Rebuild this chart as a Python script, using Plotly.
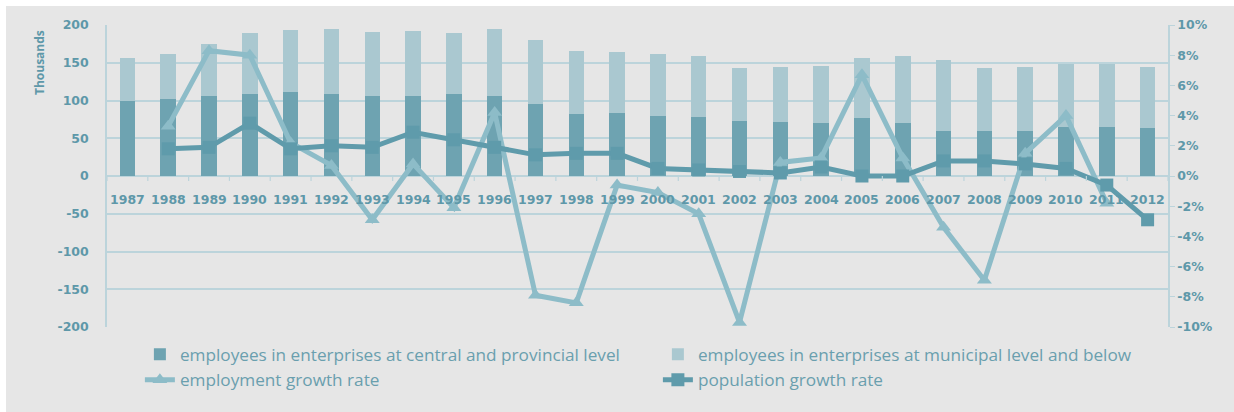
import plotly.graph_objects as go

years = [str(y) for y in range(1987, 2013)]

# employees (thousands)
central_provincial = [100, 102, 106, 109, 111, 109, 106, 106, 108, 106, 95, 82, 83, 80, 78,
                      73, 71, 70, 77, 70, 60, 59, 59, 65, 65, 63]
total_employees = [156, 162, 175, 190, 194, 195, 191, 192, 189, 195, 180, 166, 164, 162, 159,
                   143, 144, 146, 156, 159, 153, 143, 144, 149, 148, 145]
municipal_below = [t - c for t, c in zip(total_employees, central_provincial)]

# growth rates (%)
employment_growth = [None, 3.3, 8.3, 8.0, 2.2, 0.7, -2.9, 0.8, -2.1, 4.2, -7.9, -8.4, -0.6, -1.1,
                     -2.5, -9.7, 0.9, 1.2, 6.7, 1.2, -3.4, -6.9, 1.5, 4.0, -1.8, None]
population_growth = [None, 1.8, 1.9, 3.5, 1.8, 2.0, 1.9, 2.9, 2.4, 1.9, 1.4, 1.5, 1.5, 0.5,
                     0.4, 0.3, 0.2, 0.6, 0.0, 0.0, 1.0, 1.0, 0.8, 0.5, -0.6, -2.9]

left_ticks = [-200, -150, -100, -50, 0, 50, 100, 150, 200]
left_labels = ["-200", "-150", "-100", "-50", "0", "50", "100", "150", "200"]
right_ticks = [-10, -8, -6, -4, -2, 0, 2, 4, 6, 8, 10]
right_labels = ["-10%", "-8%", "-6%", "-4%", "-2%", "0%", "2%", "4%", "6%", "8%", "10%"]

TEXT = "#5e98a9"
GRID = "#bcd4db"
DARK = "#6ea3b1"
LIGHT = "#aac8d0"
EMP = "#8dbcc8"
POP = "#5f9bab"
BG = "#e6e6e6"
TICK_FONT = dict(family="DejaVu Sans", size=12.5, color=TEXT, weight="bold")

# plot area in pixels: left 107, right 1168, top 25, bottom 327
def px_x(p):
    return (p - 107) / 1061

def px_y(p):
    return (327 - p) / 302

fig = go.Figure()
fig.add_trace(go.Bar(x=years, y=central_provincial, name="employees in enterprises at central and provincial level",
                     marker=dict(color=DARK, line=dict(width=0))))
fig.add_trace(go.Bar(x=years, y=municipal_below, name="employees in enterprises at municipal level and below",
                     marker=dict(color=LIGHT, line=dict(width=0))))
fig.add_trace(go.Scatter(x=years, y=employment_growth, name="employment growth rate", yaxis="y2",
                         mode="lines+markers", line=dict(color=EMP, width=5),
                         marker=dict(symbol="triangle-up", size=13, color=EMP)))
fig.add_trace(go.Scatter(x=years, y=population_growth, name="population growth rate", yaxis="y2",
                         mode="lines+markers", line=dict(color=POP, width=5),
                         marker=dict(symbol="square", size=13, color=POP)))

annotations = []
# year labels sitting just under the zero line
for i, yr in enumerate(years):
    annotations.append(dict(x=i, y=0, xref="x", yref="y", text=yr, showarrow=False, yshift=-23,
                            font=TICK_FONT))
annotations.append(dict(x=px_x(40), y=px_y(63), xref="paper", yref="paper", text="Thousands",
                        textangle=-90, showarrow=False, xanchor="center", yanchor="middle",
                        font=dict(family="Open Sans", size=12, color=TEXT, weight="bold")))

shapes = []
# small category separators on the zero line
for i in range(len(years) + 1):
    shapes.append(dict(type="line", xref="x", yref="y", x0=i - 0.5, x1=i - 0.5, y0=0, y1=-6.5,
                       line=dict(color=GRID, width=1.2), layer="above"))
# white frame around the grey chart area
shapes.append(dict(type="rect", xref="paper", yref="paper", x0=-0.2, x1=1.1, y0=px_y(6), y1=px_y(-2),
                   fillcolor="white", line=dict(width=0), layer="above"))
shapes.append(dict(type="rect", xref="paper", yref="paper", x0=px_x(-2), x1=px_x(6), y0=px_y(414), y1=px_y(-2),
                   fillcolor="white", line=dict(width=0), layer="above"))

fig.update_layout(
    width=1234, height=412,
    margin=dict(l=107, r=66, t=25, b=85),
    paper_bgcolor=BG, plot_bgcolor=BG,
    barmode="stack", bargap=0.62,
    shapes=shapes,
    annotations=annotations,
    xaxis=dict(type="category", showticklabels=False, showgrid=False, zeroline=False,
               range=[-0.5, len(years) - 0.5]),
    yaxis=dict(range=[-200, 200], tickvals=left_ticks, ticktext=left_labels,
               showgrid=True, gridcolor=GRID, gridwidth=1.5,
               zeroline=False, showline=True, linecolor=GRID, linewidth=1.5,
               ticks="", ticklabelstandoff=14, tickfont=TICK_FONT),
    yaxis2=dict(range=[-10, 10], tickvals=right_ticks, ticktext=right_labels,
                overlaying="y", side="right", showgrid=False,
                zeroline=False, showline=True, linecolor=GRID, linewidth=1.5,
                ticks="outside", ticklen=5, tickcolor=GRID, tickfont=TICK_FONT),
    legend=dict(orientation="h", x=0.031, y=-0.032, xanchor="left", yanchor="top",
                entrywidth=473, entrywidthmode="pixels", bgcolor="rgba(0,0,0,0)",
                traceorder="normal",
                font=dict(family="Open Sans", size=17.2, color="#6a9fae")),
    showlegend=True,
)

fig.write_html("out.html")
